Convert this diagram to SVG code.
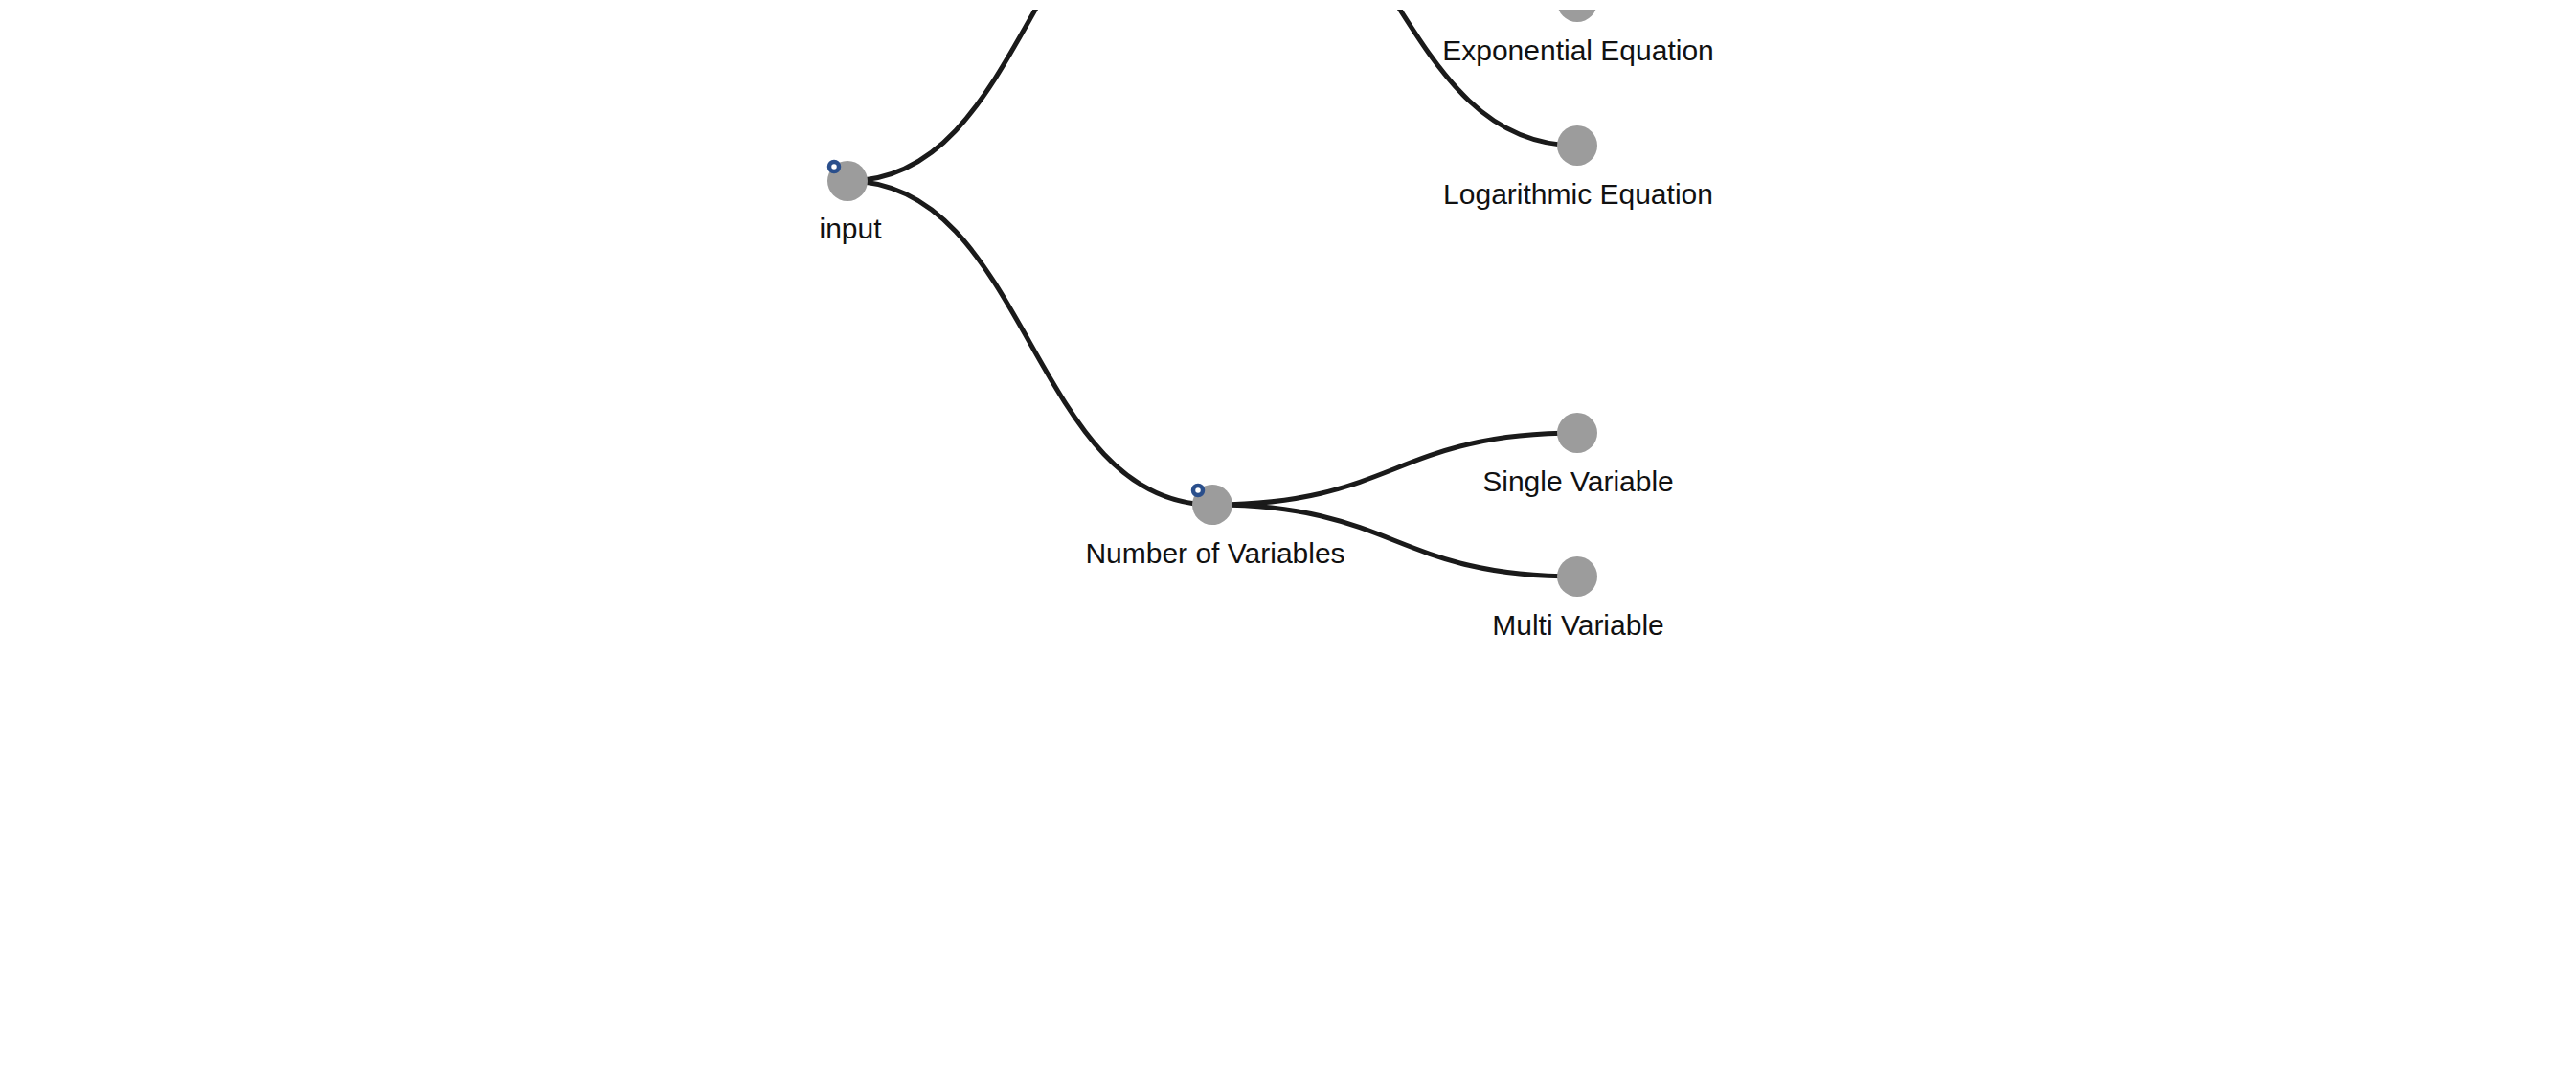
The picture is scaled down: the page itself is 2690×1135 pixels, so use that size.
<svg xmlns="http://www.w3.org/2000/svg" width="2690" height="1135" viewBox="0 0 2690 1135">
  <defs>
    <clipPath id="view">
      <rect x="0" y="10" width="2690" height="1125"/>
    </clipPath>
    <style>
      .link { fill: none; stroke: #1a1a1a; stroke-width: 5; }
      .node circle.dot { fill: #9c9c9c; }
      .node circle.ring { fill: #ffffff; stroke: #2a4f8c; stroke-width: 4.5; }
      .node text { font-family: "Liberation Sans", Arial, sans-serif; font-size: 30px; fill: #111111; text-anchor: middle; }
    </style>
  </defs>
  <rect width="2690" height="1135" fill="#ffffff"/>
  <g clip-path="url(#view)">
    <g id="connectors">
      <path class="link" d="M885,189 C1075.5,189 1075.5,-149 1266,-149"/>
      <path class="link" d="M885,189 C1075.5,189 1075.5,527 1266,527"/>
      <path class="link" d="M1266,-149 C1456.5,-149 1456.5,2 1647,2"/>
      <path class="link" d="M1266,-149 C1456.5,-149 1456.5,152 1647,152"/>
      <path class="link" d="M1266,527 C1456.5,527 1456.5,452 1647,452"/>
      <path class="link" d="M1266,527 C1456.5,527 1456.5,602 1647,602"/>
    </g>
    <g id="node-input" class="node">
      <circle class="dot" cx="885" cy="189" r="21"/>
      <circle class="ring" cx="871" cy="174" r="5"/>
      <text x="888" y="249">input</text>
    </g>
    <g id="node-number-of-variables" class="node">
      <circle class="dot" cx="1266" cy="527" r="21"/>
      <circle class="ring" cx="1251" cy="512" r="5"/>
      <text x="1269" y="588">Number of Variables</text>
    </g>
    <g id="node-exponential-equation" class="node">
      <circle class="dot" cx="1647" cy="2" r="21"/>
      <text x="1648" y="63">Exponential Equation</text>
    </g>
    <g id="node-logarithmic-equation" class="node">
      <circle class="dot" cx="1647" cy="152" r="21"/>
      <text x="1648" y="213">Logarithmic Equation</text>
    </g>
    <g id="node-single-variable" class="node">
      <circle class="dot" cx="1647" cy="452" r="21"/>
      <text x="1648" y="513">Single Variable</text>
    </g>
    <g id="node-multi-variable" class="node">
      <circle class="dot" cx="1647" cy="602" r="21"/>
      <text x="1648" y="663">Multi Variable</text>
    </g>
  </g>
</svg>
